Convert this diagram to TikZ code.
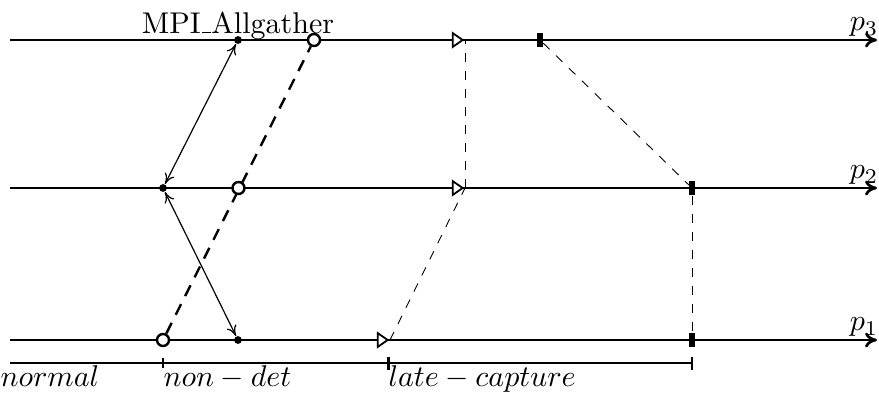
\documentclass[tikz,border=0pt]{standalone}
\usetikzlibrary{shapes.geometric,arrows.meta}
\newcommand{\myunderscore}{\leavevmode\kern.06em\vbox{\hrule width.3em height 0.45pt}}
\begin{document}
\begin{tikzpicture}[x=0.33333pt,y=-0.33333pt,
  proc/.style={line width=0.9pt,-{To[length=4pt,width=5pt]}},
  dotev/.style={circle,fill=black,inner sep=0pt,minimum size=2.6pt},
  ringev/.style={circle,draw,line width=0.8pt,fill=white,inner sep=0pt,minimum size=4pt},
  triev/.style={isosceles triangle,draw,line width=0.6pt,fill=white,inner sep=0pt,minimum height=3.3pt,minimum width=4.6pt,isosceles triangle stretches,anchor=apex},
  barev/.style={rectangle,fill=black,inner sep=0pt,minimum width=1.7pt,minimum height=4.7pt},
  msg/.style={line width=0.4pt,{To[length=3.5pt,width=3.5pt]}-{To[length=3.5pt,width=3.5pt]}},
  thindash/.style={line width=0.3pt,dash pattern=on 3pt off 3pt},
  thickdash/.style={line width=0.8pt,dash pattern=on 4pt off 3pt},
  plab/.style={anchor=south east,inner sep=0pt},
  seglab/.style={anchor=base west,inner sep=0pt}]
\useasboundingbox (0,0) rectangle (879,392);
% process lines
\coordinate (s3) at (10,40);  \coordinate (e3) at (877,40);
\coordinate (s2) at (10,188); \coordinate (e2) at (877,188);
\coordinate (s1) at (10,340); \coordinate (e1) at (877,340);
\draw[proc] (s3) -- (e3);
\draw[proc] (s2) -- (e2);
\draw[proc] (s1) -- (e1);
\node[plab] (p3) at (879,37) {$p_3$};
\node[plab] (p2) at (879,185) {$p_2$};
\node[plab] (p1) at (879,337) {$p_1$};
\node[anchor=base] (mpi) at (238,33) {MPI\myunderscore Allgather};
% allgather dots
\node[dotev] (d3) at (238,40) {};
\node[dotev] (d2) at (163,188) {};
\node[dotev] (d1) at (238,340) {};
\draw[msg] (d2) -- (d3);
\draw[msg] (d2) -- (d1);
% non-deterministic rings
\node[ringev] (c1) at (163,340) {};
\node[ringev] (c3) at (314,40) {};
\draw[thickdash] (c1) -- (c3);
\node[ringev] (c2) at (238.5,188) {};
% late capture triangles
\node[triev] (t1) at (390,340) {};
\node[triev] (t2) at (465,188) {};
\node[triev] (t3) at (465,40) {};
\draw[thindash] (t1.apex) -- (t2.apex);
\draw[thindash] (t2.apex) -- (t3.apex);
% bars
\node[barev] (b3) at (540,40) {};
\node[barev] (b2) at (692,188) {};
\node[barev] (b1) at (692,340) {};
\draw[thindash] (b3) -- (b2);
\draw[thindash] (b2) -- (b1);
% bottom timeline
\coordinate (l0) at (10,363);
\coordinate (l1) at (163,363);
\coordinate (l2) at (388,363);
\coordinate (l3) at (692,363);
\draw[line width=0.5pt] (l0) -- (l3);
\draw[line width=0.4pt] ([yshift=1.7pt]l1) -- ([yshift=-1.7pt]l1);
\draw[line width=1pt] ([yshift=2pt]l2) -- ([yshift=-2.2pt]l2);
\draw[line width=0.4pt] ([yshift=2pt]l3) -- ([yshift=-2.2pt]l3);
\node[seglab] (n0) at (0,386) {$normal$};
\node[seglab] (n1) at (163,386) {$non-det$};
\node[seglab] (n2) at (388,386) {$late-capture$};
\end{tikzpicture}
\end{document}
